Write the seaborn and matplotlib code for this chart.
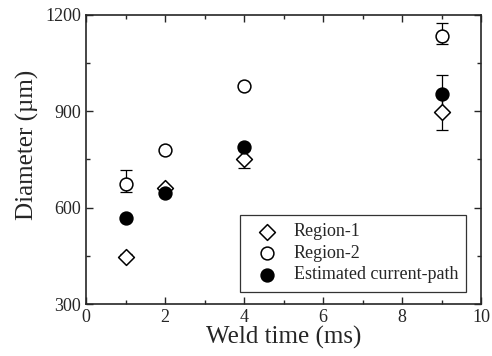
import pandas as pd
import matplotlib.pyplot as plt
import seaborn as sns
from matplotlib.ticker import MultipleLocator

# weld time (ms)
weld_time = [1, 2, 4, 9]

# diameters (um)
region1 = [447, 660, 751, 899]
region2 = [674, 781, 979, 1136]
current_path = [567, 647, 790, 955]

# error bars (lower, upper)
region1_err = [[8, 8, 28, 57], [8, 8, 28, 57]]
region2_err = [[26, 0, 0, 27], [43, 0, 0, 40]]
current_err = [[0, 0, 0, 59], [0, 0, 0, 59]]

sns.set_style("ticks")
plt.rcParams["font.family"] = ["Liberation Serif", "DejaVu Serif"]

fig, ax = plt.subplots(figsize=(4.92, 3.56), dpi=100)
fig.subplots_adjust(left=0.175, right=0.978, bottom=0.146, top=0.958)

# error bars first, markers drawn over them
for vals, err in [(region1, region1_err), (region2, region2_err), (current_path, current_err)]:
    ax.errorbar(weld_time, vals, yerr=err, fmt="none", ecolor="black",
                elinewidth=0.9, capsize=4, capthick=0.9, zorder=1)

sns.scatterplot(x=weld_time, y=region1, marker="D", s=65, color="white",
                edgecolor="black", linewidth=1.1, label="Region-1", ax=ax, zorder=3)
sns.scatterplot(x=weld_time, y=region2, marker="o", s=85, color="white",
                edgecolor="black", linewidth=1.1, label="Region-2", ax=ax, zorder=3)
sns.scatterplot(x=weld_time, y=current_path, marker="o", s=85, color="black",
                edgecolor="black", linewidth=1.1, label="Estimated current-path", ax=ax, zorder=4)

ax.set_xlim(0, 10)
ax.set_ylim(300, 1200)
ax.xaxis.set_major_locator(MultipleLocator(2))
ax.xaxis.set_minor_locator(MultipleLocator(1))
ax.yaxis.set_major_locator(MultipleLocator(300))
ax.yaxis.set_minor_locator(MultipleLocator(150))
ax.tick_params(which="both", direction="in", top=True, right=True, labelsize=13)
ax.tick_params(which="major", length=5, width=1)
ax.tick_params(which="minor", length=3, width=1)
for sp in ax.spines.values():
    sp.set_linewidth(1.2)

ax.set_xlabel("Weld time (ms)", fontsize=18, labelpad=0)
ax.set_ylabel("Diameter (µm)", fontsize=18)
ax.yaxis.set_label_coords(-0.12, 0.55)

leg = ax.legend(loc="lower right", fontsize=13, frameon=True, fancybox=False,
                edgecolor="black", handletextpad=0.5, borderpad=0.45,
                labelspacing=0.25, bbox_to_anchor=(0.985, 0.012))
leg.get_frame().set_linewidth(0.9)

plt.savefig("out.png", dpi=100)
